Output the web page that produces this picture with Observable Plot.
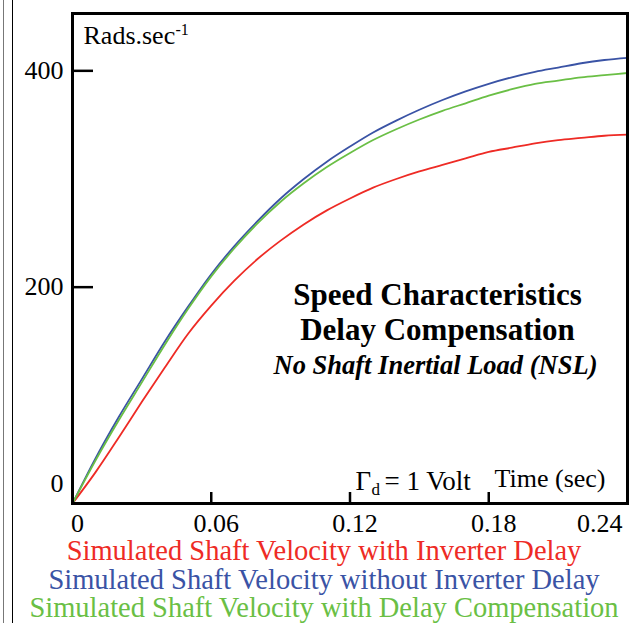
<!DOCTYPE html>
<html><head><meta charset="utf-8">
<script src="https://cdn.jsdelivr.net/npm/d3@7"></script>
<script src="https://cdn.jsdelivr.net/npm/@observablehq/plot@0.6"></script>
<style>
body{margin:0;background:#fff;}
#wrap{position:relative;width:632px;height:623px;overflow:hidden;font-family:"Liberation Serif","Times New Roman",serif;background:#fff;}
.vl{position:absolute;top:0;bottom:0;width:1px;background:#000;}
#legend{position:absolute;left:0;top:537px;width:632px;text-align:center;font-size:28.5px;line-height:28.5px;padding-left:16px;box-sizing:border-box;white-space:nowrap}
</style></head><body>
<div id="wrap">
<div id="chart"></div>
<div class="vl" style="left:3px;background:#777"></div>
<div class="vl" style="left:12px"></div>
<div id="legend"></div>
</div>
<script>
const time = [0,0.01,0.02,0.03,0.04,0.05,0.06,0.07,0.08,0.09,0.10,0.11,0.12,0.13,0.14,0.15,0.16,0.17,0.18,0.19,0.20,0.21,0.22,0.23,0.24];
const withInverterDelay = [0,29,61,94,126,157,183,206,226,243,258,271,282,292,300,307,313,319,325,329,333,336,338,340,341];
const withoutInverterDelay = [0,42,80,115,150,182,212,238,261,282,300,316,330,343,354,364,373,381,388,394,399,403,407,410,412];
const withDelayCompensation = [0,40,77,112,147,180,210,236,259,279,296,311,324,336,346,355,363,370,377,383,388,391,394,396,398];
const seriesNames = ["Simulated Shaft Velocity with Inverter Delay","Simulated Shaft Velocity without Inverter Delay","Simulated Shaft Velocity with Delay Compensation"];
const seriesColors = ["#ee2b25","#3a53a5","#6abf45"];
const xTickValues = [0.06,0.12,0.18];
const xTickLabels = [0,0.06,0.12,0.18];
const xLastLabel = [0.24];
const yTickValues = [200,400];
const yZeroLabel = [0];

const seriesData = [withInverterDelay, withoutInverterDelay, withDelayCompensation];
const rows = [];
seriesData.forEach((vals,i)=>vals.forEach((v,j)=>rows.push({t:time[j], v, s:seriesNames[i]})));

const serif = "'Liberation Serif','Times New Roman',serif";
const chart = Plot.plot({
  width: 632, height: 540,
  marginLeft: 72, marginRight: 5, marginTop: 13, marginBottom: 37,
  style: {fontFamily: serif, fontSize: "26px", background: "white", color: "black", overflow: "visible"},
  x: {domain: [0,0.24], axis: null},
  y: {domain: [0,453], axis: null},
  color: {domain: seriesNames, range: seriesColors},
  marks: [
    Plot.line(rows, {x:"t", y:"v", stroke:"s", strokeWidth:1.8, curve:"monotone-x"}),
    Plot.axisX({ticks: xTickValues, tickSize: -11, strokeWidth: 2.5, tickFormat: () => "", label: null}),
    Plot.axisY({ticks: yTickValues, tickSize: -21, strokeWidth: 2.5, tickFormat: () => "", label: null}),
    Plot.frame({strokeWidth: 3}),
    Plot.text(xTickLabels, {x: d=>d, text: d=>String(d), frameAnchor:"bottom", dx:5, dy:20, lineAnchor:"middle", fontSize:26}),
    Plot.text(xLastLabel, {x: d=>d, text: d=>String(d), frameAnchor:"bottom", dx:-5, dy:20, textAnchor:"end", lineAnchor:"middle", fontSize:26}),
    Plot.text(yTickValues, {y: d=>d, text: d=>String(d), frameAnchor:"left", dx:-9, textAnchor:"end", lineAnchor:"middle", fontSize:26}),
    Plot.text(yZeroLabel, {y: d=>d, text: d=>String(d), frameAnchor:"left", dx:-9, dy:-20, textAnchor:"end", lineAnchor:"middle", fontSize:26}),
    Plot.text(["Rads.sec"], {frameAnchor:"top-left", dx:11, dy:22, textAnchor:"start", lineAnchor:"middle", fontSize:26}),
    Plot.text(["-1"], {frameAnchor:"top-left", dx:103, dy:16, textAnchor:"start", lineAnchor:"middle", fontSize:16}),
    Plot.text(["Speed Characteristics"], {frameAnchor:"top-left", dx:365, dy:282, textAnchor:"middle", lineAnchor:"middle", fontSize:31, fontWeight:"bold"}),
    Plot.text(["Delay Compensation"], {frameAnchor:"top-left", dx:365, dy:317, textAnchor:"middle", lineAnchor:"middle", fontSize:31, fontWeight:"bold"}),
    Plot.text(["No Shaft Inertial Load (NSL)"], {frameAnchor:"top-left", dx:363, dy:352, textAnchor:"middle", lineAnchor:"middle", fontSize:26.5, fontWeight:"bold", fontStyle:"italic"}),
    Plot.text(["\u0393"], {frameAnchor:"bottom-left", dx:283, dy:-22, textAnchor:"start", lineAnchor:"middle", fontSize:27}),
    Plot.text(["d"], {frameAnchor:"bottom-left", dx:299, dy:-14, textAnchor:"start", lineAnchor:"middle", fontSize:17}),
    Plot.text(["= 1 Volt"], {frameAnchor:"bottom-left", dx:312, dy:-22, textAnchor:"start", lineAnchor:"middle", fontSize:27}),
    Plot.text(["Time (sec)"], {frameAnchor:"bottom-right", dx:-22, dy:-25, textAnchor:"end", lineAnchor:"middle", fontSize:26})
  ]
});
document.getElementById("chart").appendChild(chart);
const legend = document.getElementById("legend");
seriesNames.forEach((n,i)=>{
  const d = document.createElement("div");
  d.textContent = n;
  d.style.color = seriesColors[i];
  legend.appendChild(d);
});
</script>
</body></html>
